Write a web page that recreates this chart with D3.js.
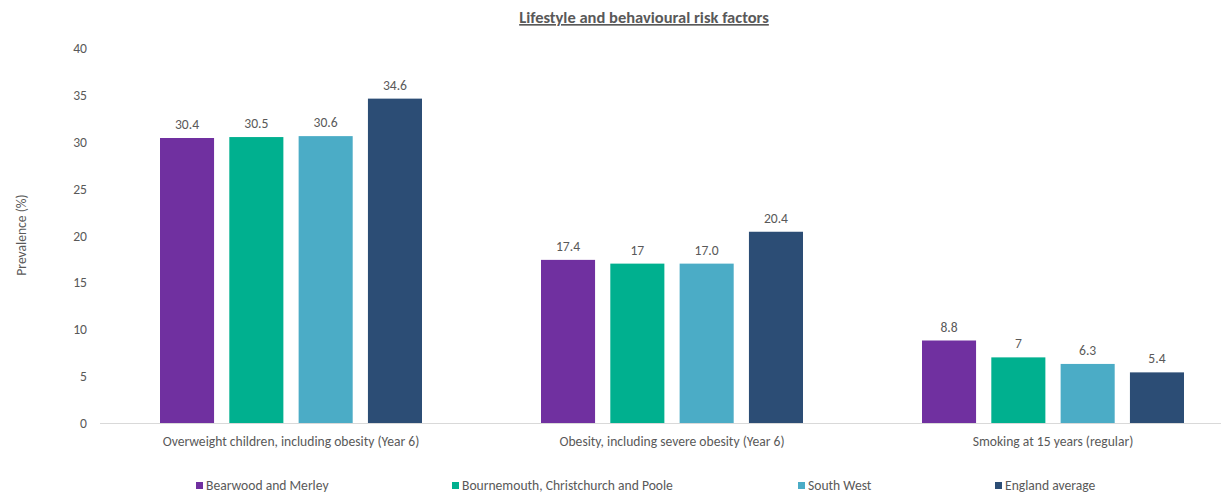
<!DOCTYPE html>
<html>
<head>
<meta charset="utf-8">
<script src="https://cdn.jsdelivr.net/npm/d3@7"></script>
<style>
  body { margin: 0; background: #fff; }
  text { font-family: Carlito, Lato, "Open Sans", sans-serif; fill: #595959; }
</style>
</head>
<body>
<script>
const categories = [
  "Overweight children, including obesity (Year 6)",
  "Obesity, including severe obesity (Year 6)",
  "Smoking at 15 years (regular)",
];
const seriesNames = [
  "Bearwood and Merley",
  "Bournemouth, Christchurch and Poole",
  "South West",
  "England average",
];
const bearwood = [30.4, 17.4, 8.8];
const bcp = [30.5, 17, 7];
const southWest = [30.6, 17.0, 6.3];
const england = [34.6, 20.4, 5.4];
// labels as shown in the chart
const labels = [
  ["30.4", "17.4", "8.8"],
  ["30.5", "17", "7"],
  ["30.6", "17.0", "6.3"],
  ["34.6", "20.4", "5.4"],
];
const yTicks = [0, 5, 10, 15, 20, 25, 30, 35, 40];
const colors = ["#7030A0", "#00B08F", "#4BACC6", "#2C4D75"];

const w = 1221;
const h = 494;
const fs = "13.6px";
const seriesValues = [bearwood, bcp, southWest, england];

const svg = d3.select("body").append("svg").attr("width", w).attr("height", h);

const x0 = d3.scaleBand().domain(categories).range([100.5, 1243.5]).padding(0);
const x1 = d3.scaleBand().domain(seriesNames).range([59.5, 321.5]).paddingInner(0.22);
const y = d3.scaleLinear().domain([0, 40]).range([423, 48]);

// title
svg.append("text")
  .attr("x", 644).attr("y", 23)
  .attr("text-anchor", "middle")
  .style("font-size", "16.5px").style("font-weight", "bold")
  .style("text-decoration", "underline")
  .text("Lifestyle and behavioural risk factors");

// y axis labels
svg.append("g")
  .selectAll("text")
  .data(yTicks)
  .enter()
  .append("text")
  .attr("x", 87)
  .attr("y", (d) => y(d) + 5)
  .attr("text-anchor", "end")
  .style("font-size", fs)
  .text((d) => d);

svg.append("text")
  .attr("transform", "translate(26,235) rotate(-90)")
  .attr("text-anchor", "middle")
  .style("font-size", fs)
  .text("Prevalence (%)");

// bars
const groups = svg.selectAll("g.grp")
  .data(categories)
  .enter()
  .append("g")
  .attr("class", "grp")
  .attr("transform", (d) => "translate(" + x0(d) + ",0)");

seriesNames.forEach((s, si) => {
  groups.append("rect")
    .attr("x", x1(s))
    .attr("y", (d, i) => y(seriesValues[si][i]))
    .attr("width", x1.bandwidth())
    .attr("height", (d, i) => y(0) - y(seriesValues[si][i]))
    .attr("fill", colors[si]);

  groups.append("text")
    .attr("x", x1(s) + x1.bandwidth() / 2)
    .attr("y", (d, i) => y(seriesValues[si][i]) - 9)
    .attr("text-anchor", "middle")
    .style("font-size", fs)
    .text((d, i) => labels[si][i]);
});

// x axis line
svg.append("line")
  .attr("x1", 100).attr("x2", w)
  .attr("y1", y(0) + 0.5).attr("y2", y(0) + 0.5)
  .attr("stroke", "#d9d9d9");

// category labels
svg.selectAll("text.cat")
  .data(categories)
  .enter()
  .append("text")
  .attr("class", "cat")
  .attr("x", (d) => x0(d) + x0.bandwidth() / 2)
  .attr("y", 446)
  .attr("text-anchor", "middle")
  .style("font-size", fs)
  .text((d) => d);

// legend
const legendX = [196, 452, 798, 995];
const leg = svg.selectAll("g.leg")
  .data(seriesNames)
  .enter()
  .append("g")
  .attr("class", "leg")
  .attr("transform", (d, i) => "translate(" + legendX[i] + ",482)");

leg.append("rect").attr("width", 7).attr("height", 7).attr("fill", (d, i) => colors[i]);
leg.append("text").attr("x", 10).attr("y", 7.5).style("font-size", fs).text((d) => d);
</script>
</body>
</html>
